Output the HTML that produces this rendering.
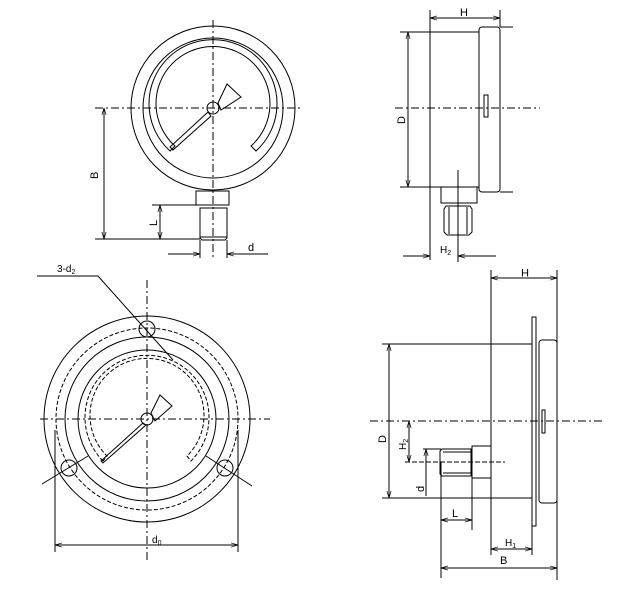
<!DOCTYPE html>
<html><head><meta charset="utf-8"><style>
html,body{margin:0;padding:0;background:#fff}
svg{display:block}
text{font-family:"Liberation Sans",sans-serif;font-size:11px;fill:#000}
</style></head><body>
<svg width="631" height="593" viewBox="0 0 631 593" xmlns="http://www.w3.org/2000/svg">
<defs>
<marker id="a" viewBox="0 0 10 10" refX="10" refY="5" markerWidth="7" markerHeight="7" orient="auto-start-reverse"><path d="M0,2 L10,5 L0,8" fill="none" stroke="#000" stroke-width="1"/></marker>
</defs>
<g fill="none" stroke="#000" stroke-width="1">
<!-- Top-left gauge -->
<circle cx="213" cy="108" r="82"/>
<circle cx="213" cy="108" r="70"/>
<path d="M170,151 A64,64 0 1 1 256,151 L251,146 A57,57 0 1 0 175,146 Z"/>
<circle cx="213" cy="108" r="6"/>
<polygon points="208,112 170,147 173,150 211,116"/>
<polygon points="218,103 227,84 241,97 221,110"/>
<rect x="196" y="191" width="33" height="14"/>
<path d="M200,208 H227 V238 L225,240 H202 L200,238 Z"/>
<path d="M200,237 H227"/>
<g stroke-dasharray="8,3,2,3">
<path d="M95,108 H300"/><path d="M213,20 V258"/>
</g>
<path d="M95,239 H200"/><path d="M104,108 V239" marker-start="url(#a)" marker-end="url(#a)"/>
<path d="M152,205 H196"/><path d="M160,205 V239" marker-start="url(#a)" marker-end="url(#a)"/>
<path d="M200,240 V258"/><path d="M227,240 V258"/>
<path d="M168,254 H200" marker-end="url(#a)"/><path d="M268,254 H227" marker-end="url(#a)"/>

<!-- Top-right side view -->
<path d="M430,32 V187 H479 V32 Z"/>
<rect x="479" y="27" width="21" height="165" rx="3"/>
<rect x="484" y="95" width="4" height="22"/>
<rect x="441" y="187" width="36" height="16"/>
<path d="M446,206 H470 L472,209 V232 L469,235 H447 L444,232 V209 Z"/>
<path d="M449,207 V234 M467,207 V234"/>
<path d="M430,10 V260"/><path d="M500,10 V27"/>
<path d="M430,18 H500" marker-start="url(#a)" marker-end="url(#a)"/>
<path d="M400,32 H430"/><path d="M400,187 H430"/>
<path d="M500,27 H513"/><path d="M500,192 H513"/>
<path d="M408,32 V187" marker-start="url(#a)" marker-end="url(#a)"/>
<path d="M458,170 V262"/>
<path d="M403,256 H430" marker-end="url(#a)"/><path d="M496,256 H458" marker-end="url(#a)"/>
<path d="M395,108 H540" stroke-dasharray="8,3,2,3"/>

<!-- Bottom-left flange view -->
<circle cx="147" cy="419" r="103"/>
<circle cx="147" cy="419" r="91" stroke-dasharray="4,2"/>
<circle cx="147" cy="419" r="82"/>
<circle cx="147" cy="419" r="69"/>
<path d="M103,461 A62,62 0 1 1 191,461 L187,456 A57,57 0 1 0 107,456 Z" stroke-dasharray="4,2"/>
<circle cx="147" cy="419" r="6"/>
<polygon points="143,423 101,461 103,463 146,425"/>
<polygon points="151,413 160,395 172,406 155,421"/>
<circle cx="147" cy="329" r="8"/>
<circle cx="69" cy="468" r="8"/>
<circle cx="225" cy="468" r="8"/>
<path d="M37,276 H98 L173,360"/>
<path d="M42,484 L88,456"/><path d="M252,486 L206,456"/>
<path d="M55,430 V552"/><path d="M238,430 V552"/>
<path d="M55,545 H238" marker-start="url(#a)" marker-end="url(#a)"/>
<g stroke-dasharray="8,3,2,3">
<path d="M40,419 H270"/><path d="M147,280 V560"/>
</g>

<!-- Bottom-right side view -->
<path d="M491,344 H532 V498 H491 Z"/>
<rect x="532" y="317" width="4" height="209"/>
<rect x="539" y="340" width="18" height="163" rx="3"/>
<rect x="542" y="410" width="3" height="23"/>
<rect x="472" y="446" width="19" height="32"/>
<path d="M442,449 H471 V476 H442 L440,474 V451 Z"/>
<path d="M443,452 H471 M443,473 H471"/>
<path d="M405,462 H505" stroke-dasharray="5,2"/>
<path d="M370,421 H603" stroke-dasharray="8,3,2,3"/>
<path d="M382,344 H491"/><path d="M382,498 H491"/>
<path d="M389,344 V498" marker-start="url(#a)" marker-end="url(#a)"/>
<path d="M409,421 V462" marker-start="url(#a)" marker-end="url(#a)"/>
<path d="M423,449 H441"/>
<path d="M426,449 V496" marker-start="url(#a)"/>
<path d="M441,462 V578"/><path d="M472,478 V530"/>
<path d="M441,520 H472" marker-start="url(#a)" marker-end="url(#a)"/>
<path d="M491,270 V555"/><path d="M557,270 V580"/><path d="M532,526 V555"/>
<path d="M491,549 H532" marker-start="url(#a)" marker-end="url(#a)"/>
<path d="M441,568 H557" marker-start="url(#a)" marker-end="url(#a)"/>
<path d="M491,278 H557" marker-start="url(#a)" marker-end="url(#a)"/>
</g>
<g>
<text x="98" y="179" transform="rotate(-90 98 179)">B</text>
<text x="157" y="226" transform="rotate(-90 157 226)">L</text>
<text x="248" y="251">d</text>
<text x="460" y="16">H</text>
<text x="405" y="124" transform="rotate(-90 405 124)">D</text>
<text x="440" y="253" style="font-size:10px">H<tspan style="font-size:7px" dy="2">2</tspan></text>
<text x="57" y="272" style="font-size:10px">3-d<tspan style="font-size:7px" dy="2">2</tspan></text>
<text x="152" y="543" style="font-size:10px">d<tspan style="font-size:7px" dy="2">0</tspan></text>
<text x="521" y="277" transform="rotate(180 525 273)">H</text>
<text x="386" y="443" transform="rotate(-90 386 443)">D</text>
<text x="406" y="450" transform="rotate(-90 406 450)" style="font-size:10px">H<tspan style="font-size:7px" dy="2">2</tspan></text>
<text x="424" y="492" transform="rotate(-90 424 492)">d</text>
<text x="452" y="517">L</text>
<text x="505" y="546" style="font-size:10px">H<tspan style="font-size:7px" dy="2">1</tspan></text>
<text x="500" y="564">B</text>
</g>
</svg>
</body></html>
